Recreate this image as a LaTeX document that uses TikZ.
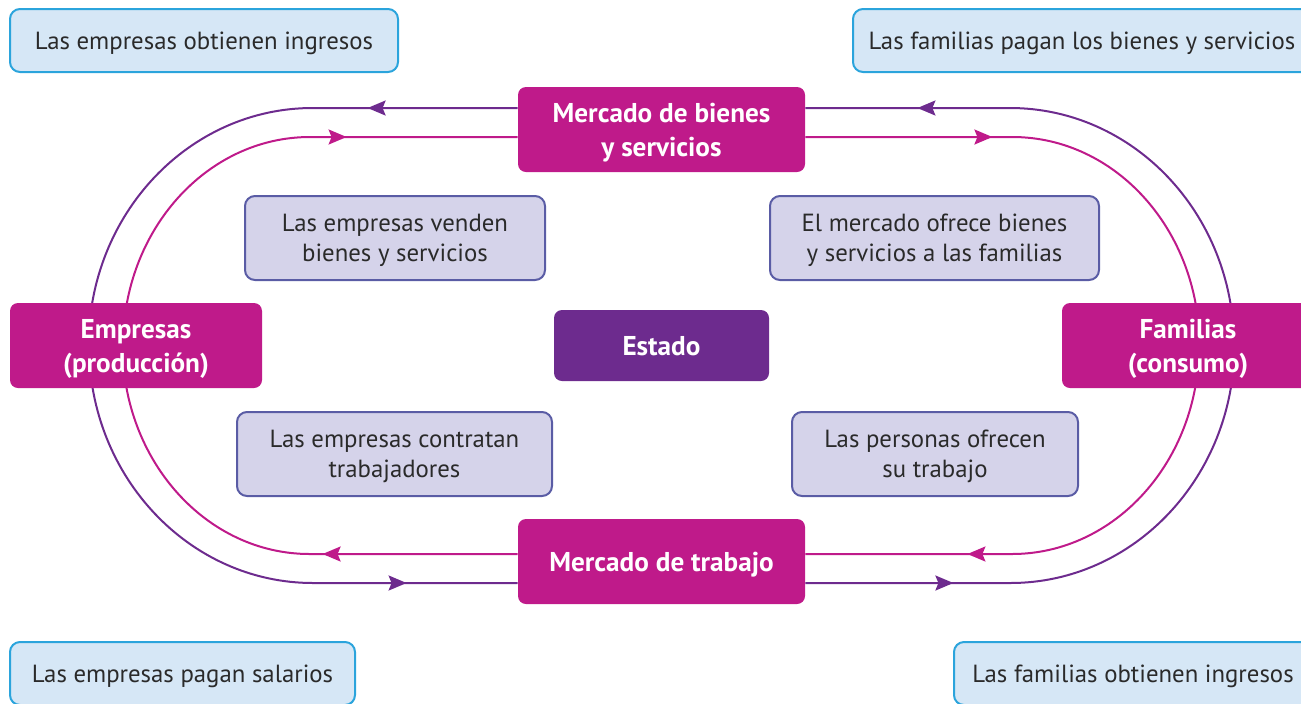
\documentclass[tikz,border=0pt]{standalone}
\usepackage{fontspec}
\setmainfont{PT Sans}
\usetikzlibrary{arrows.meta,decorations.markings,backgrounds}

\definecolor{circmag}{HTML}{BF1A8A}
\definecolor{circpurp}{HTML}{6D2B8E}
\definecolor{lavfill}{HTML}{D5D3EA}
\definecolor{lavline}{HTML}{5A5CA5}
\definecolor{infofill}{HTML}{D6E7F6}
\definecolor{infoline}{HTML}{2BA4DC}
\definecolor{textdark}{HTML}{2A2A2A}

\begin{document}
\begin{tikzpicture}[x=0.5pt,y=-0.5pt,
    info/.style={draw=infoline,fill=infofill,line width=1pt,rounded corners=5pt,minimum height=31.5pt,inner sep=0pt,text depth=0pt,text=textdark,font=\fontsize{12.4}{15}\selectfont},
    note/.style={draw=lavline,fill=lavfill,line width=1pt,rounded corners=5pt,minimum height=42pt,inner sep=0pt,text depth=0pt,align=center,text=textdark,font=\fontsize{12.4}{15}\selectfont},
    agent/.style={fill=circmag,rounded corners=4pt,minimum height=42.5pt,inner sep=0pt,text depth=0pt,align=center,text=white,font=\bfseries\fontsize{13.6}{17}\selectfont},
    outer/.style={circpurp,line width=1pt},
    inner/.style={circmag,line width=1pt},
    flow/.style={postaction=decorate,decoration={markings,mark=at position #1 with {\arrow{Stealth[length=9pt,width=7.5pt,inset=1.5pt]}}}}]
    \useasboundingbox (0,0) rectangle (1301,703);
    \clip (0,0) rectangle (1301,703);

    % markets, agents and state
    \node[agent,minimum width=143.5pt] (mb) at (661.5,129.5) {Mercado de bienes\\y servicios};
    \node[agent,minimum width=143.5pt] (mt) at (661.5,561.5) {Mercado de trabajo};
    \node[agent,minimum width=126pt] (emp) at (136,345.5) {Empresas\\(producción)};
    \node[agent,minimum width=126pt] (fam) at (1188,345.5) {Familias\\(consumo)};
    \node[agent,fill=circpurp,minimum width=107.5pt,minimum height=35.5pt] (est) at (661.5,345.5) {Estado};

    % ends of the two tracks, under the agent boxes
    \coordinate (oW) at (89,345.5);
    \coordinate (oE) at (1234,345.5);
    \coordinate (iW) at (123,345.5);
    \coordinate (iE) at (1199,345.5);

    % tracks, behind the boxes
    \begin{pgfonlayer}{background}
    \draw[outer,flow=75pt] ([yshift=10.75pt]mb.west) -- ++(-205,0) arc[start angle=-90,end angle=-180,x radius=224,y radius=237.5];
    \draw[outer,flow=-55.5pt] (oW) arc[start angle=180,end angle=90,x radius=224,y radius=237.5] -- ([yshift=-10.75pt]mt.west);
    \draw[outer,flow=74pt] ([yshift=-10.75pt]mt.east) -- ++(205,0) arc[start angle=90,end angle=0,x radius=224,y radius=237.5];
    \draw[outer,flow=-56pt] (oE) arc[start angle=0,end angle=-90,x radius=224,y radius=237.5] -- ([yshift=10.75pt]mb.east);
    \draw[inner,flow=-85.5pt] (iW) arc[start angle=-180,end angle=-90,x radius=187,y radius=208.5] -- ([yshift=-3.75pt]mb.west);
    \draw[inner,flow=93.5pt] ([yshift=-3.75pt]mb.east) -- ++(207,0) arc[start angle=-90,end angle=0,x radius=187,y radius=208.5];
    \draw[inner,flow=-81pt] (iE) arc[start angle=0,end angle=90,x radius=187,y radius=208.5] -- ([yshift=3.75pt]mt.east);
    \draw[inner,flow=97.5pt] ([yshift=3.75pt]mt.west) -- ++(-208,0) arc[start angle=90,end angle=180,x radius=187,y radius=208.5];
    \end{pgfonlayer}

    % what each side does
    \node[note,minimum width=150pt] (vende) at (395,238) {Las empresas venden\\bienes y servicios};
    \node[note,minimum width=164.5pt] (ofrece) at (934.5,238) {El mercado ofrece bienes\\y servicios a las familias};
    \node[note,minimum width=157.5pt] (contrata) at (394.5,454) {Las empresas contratan\\trabajadores};
    \node[note,minimum width=143pt] (trabajo) at (935,454) {Las personas ofrecen\\su trabajo};

    % money flows
    \node[info,minimum width=194pt] (ingE) at (204,40.5) {Las empresas obtienen ingresos};
    \node[info,minimum width=229pt] (pagF) at (1082,40.5) {Las familias pagan los bienes y servicios};
    \node[info,minimum width=172.5pt] (salE) at (182.5,673.5) {Las empresas pagan salarios};
    \node[info,minimum width=179pt] (ingF) at (1133,673.5) {Las familias obtienen ingresos};
\end{tikzpicture}
\end{document}
